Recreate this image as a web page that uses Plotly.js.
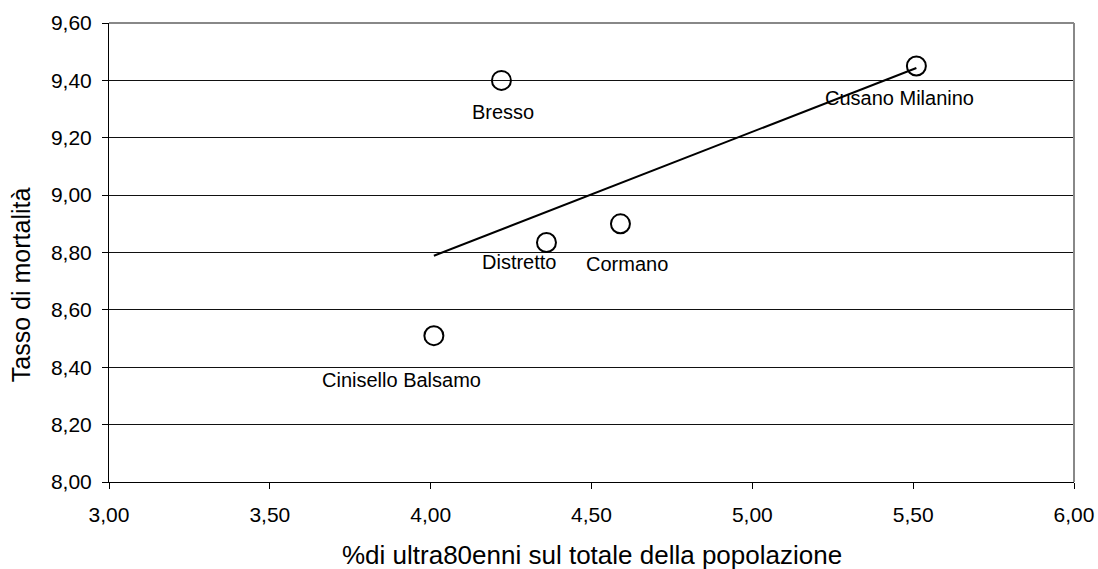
<!DOCTYPE html>
<html>
<head>
<meta charset="utf-8">
<script src="https://cdn.plot.ly/plotly-3.0.1.min.js"></script>
<style>html,body{margin:0;padding:0;background:#fff;}#chart{width:1098px;height:569px;}</style>
</head>
<body>
<div id="chart"></div>
<script>
// Data
const comuni = ["Bresso", "Cusano Milanino", "Distretto", "Cormano", "Cinisello Balsamo"];
const ultra80 = [4.22, 5.51, 4.36, 4.59, 4.01];
const mortalita = [9.40, 9.45, 8.835, 8.90, 8.51];
const xTickVals = [3.0, 3.5, 4.0, 4.5, 5.0, 5.5, 6.0];
const yTickVals = [8.0, 8.2, 8.4, 8.6, 8.8, 9.0, 9.2, 9.4, 9.6];
const xTitle = "%di ultra80enni sul totale della popolazione";
const yTitle = "Tasso di mortalità";

// Label offsets (pixels) – style only
const labelShift = [[2, -32], [-17, -32], [-27, -20], [7, -40], [-32, -44]];

// Linear regression trendline computed from the data
const n = ultra80.length;
const mx = ultra80.reduce((a, b) => a + b, 0) / n;
const my = mortalita.reduce((a, b) => a + b, 0) / n;
let sxy = 0, sxx = 0;
for (let i = 0; i < n; i++) { sxy += (ultra80[i] - mx) * (mortalita[i] - my); sxx += (ultra80[i] - mx) ** 2; }
const slope = sxy / sxx, icpt = my - slope * mx;
const trendX = [Math.min(...ultra80), Math.max(...ultra80)];
const trendY = trendX.map(x => icpt + slope * x);

const font = "Liberation Sans, Arial, sans-serif";

const traces = [
  {
    x: trendX, y: trendY, type: "scatter", mode: "lines",
    line: {color: "#000", width: 2}, hoverinfo: "skip", showlegend: false
  },
  {
    x: ultra80, y: mortalita, type: "scatter", mode: "markers",
    text: comuni,
    marker: {symbol: "circle-open", size: 19, color: "#000", line: {width: 2, color: "#000"}},
    showlegend: false
  }
];

const annotations = comuni.map((c, i) => ({
  x: ultra80[i], y: mortalita[i], text: c, showarrow: false,
  xshift: labelShift[i][0], yshift: labelShift[i][1],
  font: {family: font, size: 20, color: "#000"}
}));
annotations.push({
  xref: "paper", yref: "paper", x: 0.5, y: -0.158, xanchor: "center", yanchor: "middle",
  text: xTitle, showarrow: false, font: {family: font, size: 26, color: "#000"}
});
annotations.push({
  xref: "paper", yref: "paper", x: -0.0917, y: 0.43, xanchor: "center", yanchor: "middle",
  textangle: -90, text: yTitle, showarrow: false, font: {family: font, size: 25, color: "#000"}
});

const layout = {
  width: 1098, height: 569,
  margin: {l: 109, r: 24, t: 23, b: 87},
  paper_bgcolor: "#fff", plot_bgcolor: "#fff",
  separators: ",.",
  showlegend: false,
  font: {family: font, color: "#000"},
  xaxis: {
    range: [3, 6], tickvals: xTickVals, tickformat: ".2f",
    showgrid: false, zeroline: false,
    showline: true, linecolor: "#000", linewidth: 1, mirror: false,
    ticks: "outside", ticklen: 6, tickcolor: "#000", ticklabelstandoff: 8,
    tickfont: {family: font, size: 21, color: "#000"}
  },
  yaxis: {
    range: [8, 9.6], tickvals: yTickVals, tickformat: ".2f",
    showgrid: true, gridcolor: "#111", gridwidth: 1, zeroline: false,
    showline: true, linecolor: "#000", linewidth: 1,
    ticks: "outside", ticklen: 6, tickcolor: "#000", ticklabelstandoff: 6,
    tickfont: {family: font, size: 21, color: "#000"}
  },
  shapes: [
    {type: "line", xref: "paper", yref: "paper", x0: 0, x1: 1, y0: 1, y1: 1, line: {color: "#888", width: 2}},
    {type: "line", xref: "paper", yref: "paper", x0: 1, x1: 1, y0: 0, y1: 1, line: {color: "#888", width: 2}}
  ],
  annotations: annotations
};

Plotly.newPlot("chart", traces, layout, {staticPlot: true, displayModeBar: false});
</script>
</body>
</html>
